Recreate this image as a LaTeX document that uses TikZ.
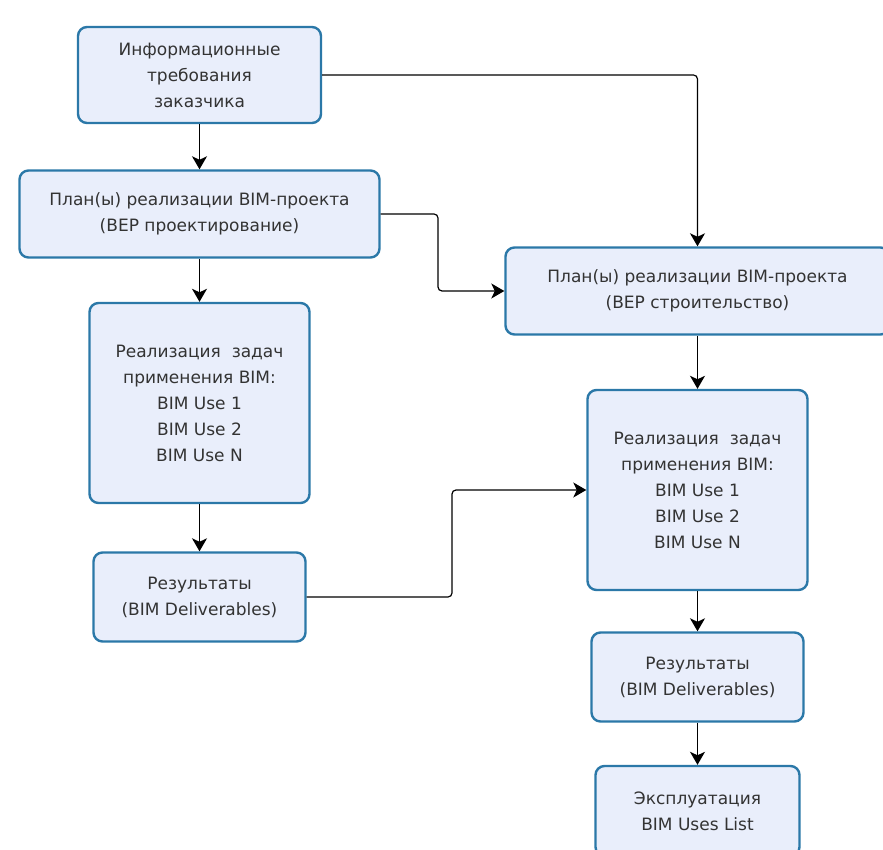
\documentclass[tikz,border=0pt]{standalone}
\usepackage{fontspec}
\setmainfont{DejaVu Sans}
\usetikzlibrary{arrows.meta,calc}
\definecolor{boxborder}{HTML}{2B78A8}
\definecolor{boxfill}{HTML}{E9EEFB}
\definecolor{txt}{HTML}{333333}
\begin{document}
\begin{tikzpicture}[x=1pt,y=-1pt,
  box/.style={draw=boxborder, line width=2.4pt, fill=boxfill, rounded corners=9pt,
    align=center, text=txt, inner sep=0pt,
    font=\fontsize{17}{26}\selectfont},
  arr/.style={draw=black, line width=1.2pt, rounded corners=4pt,
    -{Stealth[length=13pt,width=15pt,inset=3.5pt]}}]
\useasboundingbox (0,0) rectangle (883,850);
\fill[white] (0,0) rectangle (883,850);
\node[box, minimum width=243pt, minimum height=96pt] (b1) at (199.5,75)
  {Информационные\\требования\\заказчика};
\node[box, minimum width=360pt, minimum height=87pt] (b2) at (199.5,214)
  {План(ы) реализации BIM-проекта\\(BEP проектирование)};
\node[box, minimum width=220pt, minimum height=200pt] (b3) at (199.5,403)
  {Реализация\ \ задач\\применения BIM:\\BIM Use 1\\BIM Use 2\\BIM Use N};
\node[box, minimum width=212pt, minimum height=89pt] (b4) at (199.5,597)
  {Результаты\\(BIM Deliverables)};
\node[box, minimum width=384pt, minimum height=87pt] (b5) at (697.5,291)
  {План(ы) реализации BIM-проекта\\(BEP строительство)};
\node[box, minimum width=220pt, minimum height=200pt] (b6) at (697.5,490)
  {Реализация\ \ задач\\применения BIM:\\BIM Use 1\\BIM Use 2\\BIM Use N};
\node[box, minimum width=212pt, minimum height=89pt] (b7) at (697.5,677)
  {Результаты\\(BIM Deliverables)};
\node[box, minimum width=204pt, minimum height=90pt] (b8) at (697.5,811)
  {Эксплуатация\\BIM Uses List};
\coordinate (c1) at (438,250);
\coordinate (c2) at (452,550);
\draw[arr] (b1) -- (b2);
\draw[arr] (b2) -- (b3);
\draw[arr] (b3) -- (b4);
\draw[arr] (b5) -- (b6);
\draw[arr] (b6) -- (b7);
\draw[arr] (b7) -- (b8);
\draw[arr] (b1.east) -| (b5.north);
\draw[arr] (b2.east) -- (b2.east -| c1) -- (c1 |- b5.west) -- (b5.west);
\draw[arr] (b4.east) -- (b4.east -| c2) -- (c2 |- b6.west) -- (b6.west);
\end{tikzpicture}
\end{document}
